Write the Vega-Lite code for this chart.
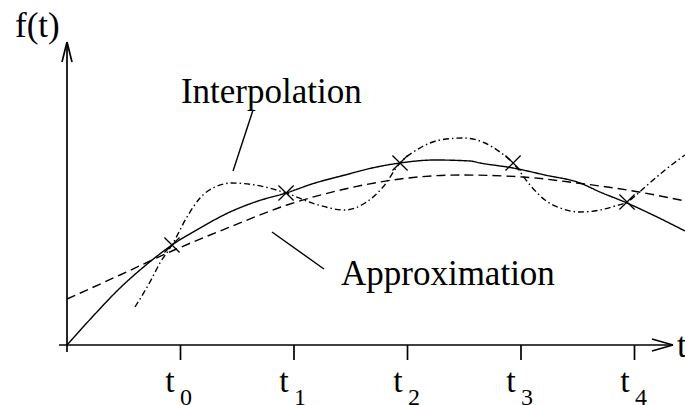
{
  "$schema": "https://vega.github.io/schema/vega-lite/v6.json",
  "width": 685,
  "height": 405,
  "padding": 0,
  "autosize": {"type": "none"},
  "background": "white",
  "config": {"view": {"stroke": null}},
  "datasets": {
    "curves": [
      {"curve": "f", "t": 0.000, "f": 0.00},
      {"curve": "f", "t": 0.247, "f": 0.31},
      {"curve": "f", "t": 0.467, "f": 0.57},
      {"curve": "f", "t": 0.696, "f": 0.80},
      {"curve": "f", "t": 0.925, "f": 1.00},
      {"curve": "f", "t": 1.172, "f": 1.17},
      {"curve": "f", "t": 1.436, "f": 1.33},
      {"curve": "f", "t": 1.683, "f": 1.44},
      {"curve": "f", "t": 1.930, "f": 1.52},
      {"curve": "f", "t": 2.185, "f": 1.62},
      {"curve": "f", "t": 2.449, "f": 1.70},
      {"curve": "f", "t": 2.687, "f": 1.77},
      {"curve": "f", "t": 2.934, "f": 1.82},
      {"curve": "f", "t": 3.242, "f": 1.85},
      {"curve": "f", "t": 3.551, "f": 1.84},
      {"curve": "f", "t": 3.640, "f": 1.82},
      {"curve": "f", "t": 3.930, "f": 1.77},
      {"curve": "f", "t": 4.211, "f": 1.70},
      {"curve": "f", "t": 4.520, "f": 1.62},
      {"curve": "f", "t": 4.696, "f": 1.53},
      {"curve": "f", "t": 4.934, "f": 1.42},
      {"curve": "f", "t": 5.181, "f": 1.29},
      {"curve": "f", "t": 5.445, "f": 1.14},

      {"curve": "approx", "t": 0.000, "f": 0.46},
      {"curve": "approx", "t": 0.467, "f": 0.70},
      {"curve": "approx", "t": 0.925, "f": 0.94},
      {"curve": "approx", "t": 1.436, "f": 1.18},
      {"curve": "approx", "t": 1.938, "f": 1.40},
      {"curve": "approx", "t": 2.449, "f": 1.56},
      {"curve": "approx", "t": 2.934, "f": 1.66},
      {"curve": "approx", "t": 3.463, "f": 1.70},
      {"curve": "approx", "t": 4.018, "f": 1.68},
      {"curve": "approx", "t": 4.493, "f": 1.62},
      {"curve": "approx", "t": 4.987, "f": 1.54},
      {"curve": "approx", "t": 5.445, "f": 1.44},

      {"curve": "interp", "t": 0.599, "f": 0.38},
      {"curve": "interp", "t": 0.731, "f": 0.63},
      {"curve": "interp", "t": 0.819, "f": 0.82},
      {"curve": "interp", "t": 0.925, "f": 1.00},
      {"curve": "interp", "t": 1.057, "f": 1.28},
      {"curve": "interp", "t": 1.172, "f": 1.47},
      {"curve": "interp", "t": 1.304, "f": 1.58},
      {"curve": "interp", "t": 1.454, "f": 1.62},
      {"curve": "interp", "t": 1.656, "f": 1.60},
      {"curve": "interp", "t": 1.930, "f": 1.52},
      {"curve": "interp", "t": 2.185, "f": 1.41},
      {"curve": "interp", "t": 2.449, "f": 1.35},
      {"curve": "interp", "t": 2.626, "f": 1.42},
      {"curve": "interp", "t": 2.784, "f": 1.58},
      {"curve": "interp", "t": 2.934, "f": 1.82},
      {"curve": "interp", "t": 3.110, "f": 1.97},
      {"curve": "interp", "t": 3.286, "f": 2.05},
      {"curve": "interp", "t": 3.489, "f": 2.07},
      {"curve": "interp", "t": 3.683, "f": 2.02},
      {"curve": "interp", "t": 3.815, "f": 1.93},
      {"curve": "interp", "t": 3.930, "f": 1.82},
      {"curve": "interp", "t": 4.079, "f": 1.60},
      {"curve": "interp", "t": 4.211, "f": 1.45},
      {"curve": "interp", "t": 4.344, "f": 1.37},
      {"curve": "interp", "t": 4.520, "f": 1.33},
      {"curve": "interp", "t": 4.696, "f": 1.35},
      {"curve": "interp", "t": 4.828, "f": 1.39},
      {"curve": "interp", "t": 4.934, "f": 1.43},
      {"curve": "interp", "t": 5.093, "f": 1.58},
      {"curve": "interp", "t": 5.269, "f": 1.75},
      {"curve": "interp", "t": 5.445, "f": 1.90}
    ],
    "nodes": [
      {"sub": "0", "t": 0.925, "f": 1.00},
      {"sub": "1", "t": 1.930, "f": 1.52},
      {"sub": "2", "t": 2.934, "f": 1.82},
      {"sub": "3", "t": 3.930, "f": 1.82},
      {"sub": "4", "t": 4.934, "f": 1.43}
    ],
    "segments": [
      {"kind": "axis", "x": -0.07, "y": 0, "x2": 5.339, "y2": 0},
      {"kind": "axis", "x": 0, "y": -0.07, "x2": 0, "y2": 3.03},
      {"kind": "axis", "x": 5.154, "y": 0.06, "x2": 5.339, "y2": 0},
      {"kind": "axis", "x": 5.154, "y": -0.06, "x2": 5.339, "y2": 0},
      {"kind": "axis", "x": -0.044, "y": 2.83, "x2": 0, "y2": 3.03},
      {"kind": "axis", "x": 0.044, "y": 2.83, "x2": 0, "y2": 3.03},
      {"kind": "axis", "x": 1, "y": 0, "x2": 1, "y2": -0.15},
      {"kind": "axis", "x": 2, "y": 0, "x2": 2, "y2": -0.15},
      {"kind": "axis", "x": 3, "y": 0, "x2": 3, "y2": -0.15},
      {"kind": "axis", "x": 4, "y": 0, "x2": 4, "y2": -0.15},
      {"kind": "axis", "x": 5, "y": 0, "x2": 5, "y2": -0.15},
      {"kind": "leader", "x": 1.639, "y": 2.35, "x2": 1.463, "y2": 1.74},
      {"kind": "leader", "x": 1.806, "y": 1.13, "x2": 2.264, "y2": 0.76}
    ],
    "labels": [
      {"text": "f(t)", "t": -0.458, "f": 3.08},
      {"text": "Interpolation", "t": 1.004, "f": 2.42},
      {"text": "Approximation", "t": 2.414, "f": 0.60},
      {"text": "t", "t": 5.374, "f": -0.12}
    ]
  },
  "layer": [
    {
      "data": {"name": "segments"},
      "transform": [{"filter": "datum.kind === 'axis'"}],
      "mark": {"type": "rule", "color": "black", "strokeWidth": 1.7},
      "encoding": {
        "x": {"field": "x", "type": "quantitative", "scale": {"domain": [-0.5903, 5.4449], "nice": false, "zero": false}, "axis": null},
        "y": {"field": "y", "type": "quantitative", "scale": {"domain": [-0.6, 3.45], "nice": false, "zero": false}, "axis": null},
        "x2": {"field": "x2"},
        "y2": {"field": "y2"}
      }
    },
    {
      "data": {"name": "segments"},
      "transform": [{"filter": "datum.kind === 'leader'"}],
      "mark": {"type": "rule", "color": "black", "strokeWidth": 1.4},
      "encoding": {
        "x": {"field": "x", "type": "quantitative"},
        "y": {"field": "y", "type": "quantitative"},
        "x2": {"field": "x2"},
        "y2": {"field": "y2"}
      }
    },
    {
      "data": {"name": "curves"},
      "mark": {"type": "line", "color": "black", "strokeWidth": 1.4, "interpolate": "monotone"},
      "encoding": {
        "x": {"field": "t", "type": "quantitative"},
        "y": {"field": "f", "type": "quantitative"},
        "detail": {"field": "curve"},
        "strokeDash": {
          "field": "curve",
          "type": "nominal",
          "scale": {"domain": ["f", "approx", "interp"], "range": [[1, 0], [9, 5], [6, 3, 1.5, 3]]},
          "legend": null
        }
      }
    },
    {
      "data": {"name": "nodes"},
      "mark": {"type": "point", "shape": "M-1,-1L1,1M1,-1L-1,1", "filled": false, "color": "black", "strokeWidth": 1.3, "size": 230, "opacity": 1},
      "encoding": {
        "x": {"field": "t", "type": "quantitative"},
        "y": {"field": "f", "type": "quantitative"}
      }
    },
    {
      "data": {"name": "nodes"},
      "mark": {"type": "text", "text": "t", "font": "Liberation Serif", "fontSize": 34, "align": "center", "baseline": "alphabetic", "dx": -2, "color": "black"},
      "encoding": {
        "x": {"field": "t", "type": "quantitative"},
        "y": {"datum": -0.47}
      }
    },
    {
      "data": {"name": "nodes"},
      "mark": {"type": "text", "font": "Liberation Serif", "fontSize": 24, "align": "left", "baseline": "alphabetic", "dx": 8, "color": "black"},
      "encoding": {
        "x": {"field": "t", "type": "quantitative"},
        "y": {"datum": -0.6},
        "text": {"field": "sub"}
      }
    },
    {
      "data": {"name": "labels"},
      "mark": {"type": "text", "font": "Liberation Serif", "fontSize": 35, "align": "left", "baseline": "alphabetic", "color": "black"},
      "encoding": {
        "x": {"field": "t", "type": "quantitative"},
        "y": {"field": "f", "type": "quantitative"},
        "text": {"field": "text"}
      }
    }
  ]
}
